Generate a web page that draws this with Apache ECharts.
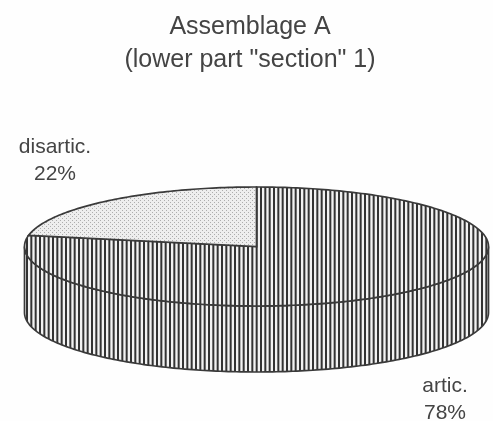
<!DOCTYPE html>
<html>
<head>
<meta charset="utf-8">
<style>
    html, body { margin: 0; padding: 0; background: #fefefe; }
    #main { width: 493px; height: 421px; }
</style>
<script src="https://cdn.jsdelivr.net/npm/echarts@6/dist/echarts.min.js"></script>
</head>
<body>
<div id="main"></div>
<script>
const sliceNames = ['artic.', 'disartic.'];
const sliceValues = [78, 22];
const titleLines = ['Assemblage A', '(lower part "section" 1)'];

// ellipse of the top face and height of the drum
const CX = 256.5, CY = 246.5, RX = 232, RY = 59.5, DEPTH = 66;
const labelAnchors = [[445, 373], [55, 134]];
const INK = '#3a3a3a';

// vertical hatching, 3 lines every 13px
function stripePattern() {
    const c = document.createElement('canvas');
    c.width = 13; c.height = 4;
    const ctx = c.getContext('2d');
    ctx.fillStyle = '#f2f2f2';
    ctx.fillRect(0, 0, 13, 4);
    ctx.fillStyle = '#333';
    [0, 4.33, 8.67].forEach((x) => ctx.fillRect(x, 0, 2, 4));
    return { image: c, repeat: 'repeat' };
}

// fine dot screen of the small slice
function dotPattern() {
    const c = document.createElement('canvas');
    c.width = 4; c.height = 4;
    const ctx = c.getContext('2d');
    ctx.fillStyle = '#eeeeee';
    ctx.fillRect(0, 0, 4, 4);
    ctx.fillStyle = '#adadad';
    ctx.fillRect(0, 0, 1, 1);
    ctx.fillRect(2, 2, 1, 1);
    return { image: c, repeat: 'repeat' };
}

// t in degrees, clockwise from 12 o'clock
function rim(t, drop) {
    const a = t * Math.PI / 180;
    return [CX + RX * Math.sin(a), CY - RY * Math.cos(a) + (drop || 0)];
}
function arc(from, to, drop) {
    const pts = [];
    const n = Math.max(2, Math.ceil(Math.abs(to - from)));
    for (let i = 0; i <= n; i++) {
        pts.push(rim(from + (to - from) * i / n, drop));
    }
    return pts;
}

const total = sliceValues.reduce((a, b) => a + b, 0);
const fills = [stripePattern(), dotPattern()];

function renderItem(params, api) {
    const idx = params.dataIndex;
    const start = sliceValues.slice(0, idx).reduce((a, b) => a + b, 0) / total * 360;
    const end = start + api.value(0) / total * 360;
    const children = [];
    const lineStyle = { stroke: INK, lineWidth: 1.7 };

    // only the front half of the drum wall shows
    const wallFrom = Math.max(start, 90), wallTo = Math.min(end, 270);
    if (wallTo > wallFrom) {
        const wall = arc(wallFrom, wallTo, 0).concat(arc(wallTo, wallFrom, DEPTH));
        children.push({
            type: 'polygon',
            shape: { points: wall },
            style: Object.assign({ fill: fills[0] }, lineStyle)
        });
    }
    children.push({
        type: 'polygon',
        shape: { points: [[CX, CY]].concat(arc(start, end, 0)) },
        style: Object.assign({ fill: fills[idx] }, lineStyle)
    });
    children.push({
        type: 'text',
        style: {
            x: labelAnchors[idx][0],
            y: labelAnchors[idx][1],
            text: sliceNames[idx] + '\n' + api.value(0) + '%',
            align: 'center',
            verticalAlign: 'top',
            fill: '#444',
            font: '21px "Liberation Sans"',
            lineHeight: 26.5
        }
    });
    return { type: 'group', children: children };
}

const chart = echarts.init(document.getElementById('main'), null, { renderer: 'canvas' });
chart.setOption({
    backgroundColor: '#fefefe',
    animation: false,
    title: {
        text: titleLines.join('\n'),
        left: 245,
        textAlign: 'center',
        top: 6,
        textStyle: {
            fontFamily: 'Liberation Sans',
            fontSize: 25,
            fontWeight: 'normal',
            color: '#444',
            lineHeight: 33
        }
    },
    series: [{
        type: 'custom',
        coordinateSystem: 'none',
        renderItem: renderItem,
        data: sliceValues.map((v) => [v])
    }]
});
</script>
</body>
</html>
